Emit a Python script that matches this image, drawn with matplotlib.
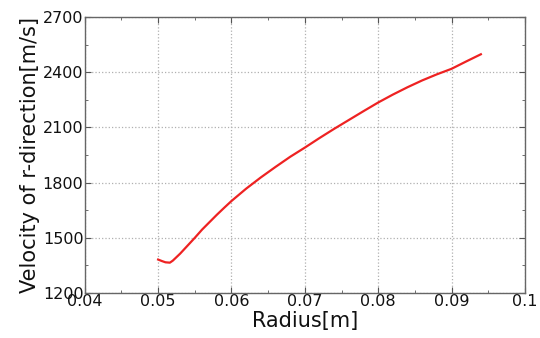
import numpy as np
import matplotlib.pyplot as plt
from matplotlib.ticker import MultipleLocator

# radius [m] and velocity [m/s]
radius = [0.050, 0.0505, 0.051, 0.0516, 0.052, 0.053, 0.054, 0.055, 0.056, 0.057,
          0.058, 0.059, 0.060, 0.062, 0.064, 0.066, 0.068, 0.070, 0.072, 0.074,
          0.076, 0.078, 0.080, 0.082, 0.084, 0.086, 0.088, 0.090, 0.092, 0.094]
velocity = [1382, 1374, 1367, 1365, 1376, 1414, 1457, 1500, 1545, 1585,
            1625, 1663, 1700, 1767, 1828, 1885, 1940, 1990, 2042, 2092,
            2140, 2188, 2235, 2278, 2318, 2355, 2388, 2418, 2458, 2497]

fig = plt.figure(figsize=(5.4, 3.38), dpi=100)
ax = fig.add_axes([0.157, 0.133, 0.815, 0.817])
ax.plot(radius, velocity, color='#ee2222', lw=1.6)

ax.set_xlim(0.04, 0.1)
ax.set_ylim(1200, 2700)
ax.set_xticks([0.04, 0.05, 0.06, 0.07, 0.08, 0.09, 0.1])
ax.set_xticklabels(['0.04', '0.05', '0.06', '0.07', '0.08', '0.09', '0.1'])
ax.xaxis.set_minor_locator(MultipleLocator(0.005))
ax.yaxis.set_major_locator(MultipleLocator(300))
ax.yaxis.set_minor_locator(MultipleLocator(150))

ax.grid(True, which='major', linestyle=':', color='#b0b0b0', lw=0.9)
ax.tick_params(which='both', direction='in', top=True, right=True, color='#555555')
ax.tick_params(which='major', length=4, labelsize=11.5, labelcolor='#111111', pad=1)
ax.tick_params(which='minor', length=2)
for s in ax.spines.values():
    s.set_color('#666666')
    s.set_linewidth(1.0)

ax.set_xlabel('Radius[m]', fontsize=15, color='#111111', labelpad=1)
ax.set_ylabel('Velocity of r-direction[m/s]', fontsize=15, color='#111111', labelpad=2)

plt.savefig('out.png', dpi=100)
